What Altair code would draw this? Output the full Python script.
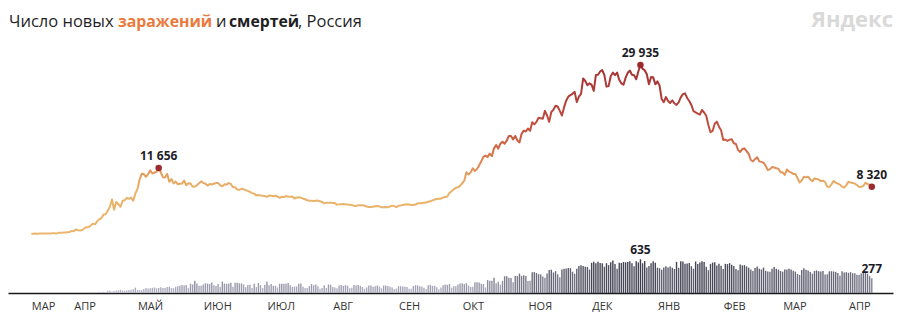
import altair as alt
import pandas as pd

# ---------------- data ----------------
start_date = "2020-03-12"

cases_2020_03 = [6, 11, 14, 4, 30, 21, 33, 52, 54, 53, 61, 71, 57, 163, 182, 196, 228, 270, 302, 501]
cases_2020_04 = [440, 771, 601, 582, 658, 954, 1154, 1175, 1459, 1786, 1667, 2186, 2558, 2774, 3388,
                 3448, 4070, 4785, 6060, 4268, 5642, 5236, 4774, 5849, 5966, 6361, 6198, 6411, 5841, 7099]
cases_2020_05 = [7933, 9623, 10633, 10581, 10102, 10559, 11231, 10699, 10817, 11012, 11656, 10899, 10028,
                 9974, 10598, 9200, 9709, 8926, 9263, 8764, 8849, 8894, 9434, 8599, 8946, 8915, 8338, 8371,
                 8572, 8952, 9268]
cases_2020_06 = [9035, 8863, 8536, 8831, 8726, 8855, 8984, 8985, 8595, 8404, 8779, 8706, 8987, 8835, 8246,
                 8248, 7843, 7790, 7972, 7889, 7728, 7600, 7425, 7176, 7113, 6800, 6852, 6791, 6719, 6693]
cases_2020_07 = [6556, 6760, 6718, 6632, 6736, 6611, 6368, 6562, 6509, 6635, 6615, 6537, 6615, 6248, 6422,
                 6428, 6406, 6214, 6109, 5940, 5842, 5862, 5811, 5848, 5871, 5765, 5635, 5395, 5475, 5509, 5482]
cases_2020_08 = [5462, 5427, 5159, 5204, 5241, 5267, 5212, 5189, 5118, 5102, 4945, 4892, 5057, 5065, 5061,
                 4969, 4839, 4718, 4748, 4767, 4870, 4921, 4852, 4676, 4696, 4744, 4711, 4829, 4980, 4897, 4729]
cases_2020_09 = [4952, 4995, 5110, 5185, 5205, 5195, 5099, 5099, 5172, 5363, 5406, 5449, 5509, 5529, 5670,
                 5762, 5905, 6065, 6148, 6196, 6215, 6431, 6529, 6595, 7212, 7523, 7867, 8135, 8232, 8481]
cases_2020_10 = [8945, 9412, 10888, 10499, 10888, 11615, 11115, 11493, 12126, 12846, 13634, 13868, 13592,
                 14231, 13754, 15150, 15722, 15099, 15982, 16319, 15971, 16521, 17340, 17347, 16710, 17347,
                 16550, 16202, 17717, 18283, 18140]
cases_2020_11 = [18665, 18257, 19768, 19404, 19851, 20582, 20498, 20396, 21798, 20977, 19851, 21608, 21983,
                 22702, 22572, 21798, 20977, 22410, 23610, 24318, 24581, 24822, 25173, 23351, 24326, 24814,
                 27543, 27100, 26338, 26683]
cases_2020_12 = [26402, 25345, 28145, 28209, 28782, 29039, 28137, 26097, 26190, 27927, 28585, 28137, 28585,
                 27328, 26689, 26431, 27656, 28552, 28948, 28209, 28137, 27400, 28776, 29935, 29258, 29018,
                 28284, 26513, 27787, 27747, 26513]
cases_2021_01 = [27039, 26301, 23900, 23351, 24246, 23541, 23200, 23652, 23140, 22851, 23309, 24200, 24763,
                 24900, 24092, 23541, 22857, 21734, 21513, 21300, 21152, 21950, 21513, 20921, 19290, 18000,
                 18241, 19500, 19880, 19000, 18359]
cases_2021_02 = [16643, 16714, 16474, 16688, 16750, 16048, 15916, 14850, 14494, 15019, 15150, 14657, 14185,
                 13080, 12828, 13233, 13560, 12828, 12742, 12604, 12048, 11300, 11409, 11823, 11749, 11600,
                 11534, 10900]
cases_2021_03 = [10900, 10420, 11385, 11022, 10880, 10578, 10595, 9908, 9079, 9437, 10102, 9993, 10120, 9633,
                 9299, 9803, 9700, 9632, 9299, 9424, 9166, 8340, 8294, 8769, 9350, 9073, 8885, 8711, 8340,
                 8162, 8583]
cases_2021_04 = [9230, 9073, 9013, 8885, 8646, 8294, 8328, 8460, 9050, 8806, 8702, 8320]

deaths_2020_03 = [0, 0, 0, 0, 0, 0, 0, 1, 0, 0, 0, 0, 0, 2, 0, 1, 1, 4, 0, 1]
deaths_2020_04 = [2, 4, 2, 4, 2, 11, 2, 5, 13, 18, 12, 18, 24, 22, 24, 19, 43, 41, 29, 37, 48, 51, 59, 48,
                  42, 47, 58, 60, 72, 101]
deaths_2020_05 = [57, 58, 58, 76, 95, 86, 88, 98, 104, 88, 94, 107, 96, 93, 113, 119, 94, 91, 115, 127, 135,
                  150, 139, 153, 92, 174, 161, 232, 181, 138, 138]
deaths_2020_06 = [162, 182, 178, 169, 197, 144, 134, 171, 112, 216, 178, 174, 181, 194, 119, 193, 194, 182,
                  181, 161, 109, 153, 154, 92, 176, 114, 188, 147, 93, 154]
deaths_2020_07 = [216, 147, 168, 135, 138, 104, 173, 175, 174, 174, 188, 144, 114, 121, 124, 176, 179, 119,
                  95, 95, 131, 169, 145, 161, 129, 79, 95, 147, 94, 161, 156]
deaths_2020_08 = [115, 105, 90, 142, 150, 134, 149, 139, 90, 97, 150, 142, 149, 134, 114, 80, 106, 139, 141,
                  120, 129, 141, 123, 88, 143, 142, 134, 116, 102, 77, 83]
deaths_2020_09 = [127, 129, 122, 120, 115, 79, 81, 131, 146, 144, 129, 122, 101, 74, 146, 155, 134, 137, 107,
                  70, 103, 144, 160, 154, 169, 100, 129, 127, 160, 177]
deaths_2020_10 = [186, 169, 186, 141, 115, 120, 202, 201, 197, 174, 170, 105, 244, 232, 232, 286, 184, 212,
                  156, 229, 317, 317, 286, 283, 201, 320, 320, 366, 322, 335, 320]
deaths_2020_11 = [228, 230, 389, 395, 378, 355, 349, 313, 286, 368, 432, 439, 387, 411, 352, 296, 442, 456,
                  463, 473, 467, 401, 361, 456, 507, 524, 510, 496, 491, 442]
deaths_2020_12 = [569, 589, 560, 589, 565, 560, 496, 562, 526, 581, 613, 547, 456, 572, 565, 583, 578, 585,
                  600, 561, 503, 599, 576, 635, 561, 602, 480, 508, 562, 599, 570]
deaths_2021_01 = [477, 468, 439, 482, 506, 481, 497, 474, 452, 587, 475, 598, 592, 549, 558, 563, 505, 457,
                  594, 546, 573, 598, 583, 496, 430, 549, 573, 580, 520, 550, 512]
deaths_2021_02 = [452, 549, 545, 562, 534, 511, 452, 427, 535, 520, 526, 502, 477, 443, 415, 469, 497, 455,
                  444, 479, 417, 403, 399, 455, 491, 459, 440, 416]
deaths_2021_03 = [402, 442, 444, 459, 442, 420, 403, 360, 341, 432, 465, 436, 424, 397, 364, 416, 425, 411,
                  404, 413, 347, 355, 408, 411, 405, 398, 378, 323, 408, 387, 393]
deaths_2021_04 = [380, 392, 372, 370, 343, 339, 369, 383, 384, 362, 318, 277]

month_names = ["ЯНВ", "ФЕВ", "МАР", "АПР", "МАЙ", "ИЮН", "ИЮЛ", "АВГ", "СЕН", "ОКТ", "НОЯ", "ДЕК"]
tick_dates = [(2020, 3, 12), (2020, 4, 1), (2020, 5, 1), (2020, 6, 1), (2020, 7, 1), (2020, 8, 1),
              (2020, 9, 1), (2020, 10, 1), (2020, 11, 1), (2020, 12, 1), (2021, 1, 1), (2021, 2, 1),
              (2021, 3, 1), (2021, 4, 1)]
case_highlights = ["2020-05-11", "2020-12-24", "2021-04-12"]
death_highlights = ["2020-12-24", "2021-04-12"]

# ---------------- build table ----------------
cases = (cases_2020_03 + cases_2020_04 + cases_2020_05 + cases_2020_06 + cases_2020_07 + cases_2020_08 +
         cases_2020_09 + cases_2020_10 + cases_2020_11 + cases_2020_12 + cases_2021_01 + cases_2021_02 +
         cases_2021_03 + cases_2021_04)
deaths = (deaths_2020_03 + deaths_2020_04 + deaths_2020_05 + deaths_2020_06 + deaths_2020_07 +
          deaths_2020_08 + deaths_2020_09 + deaths_2020_10 + deaths_2020_11 + deaths_2020_12 +
          deaths_2021_01 + deaths_2021_02 + deaths_2021_03 + deaths_2021_04)
assert len(cases) == len(deaths) == 397, (len(cases), len(deaths))

dates = pd.date_range(start_date, periods=len(cases), freq="D").strftime("%Y-%m-%d")
df = pd.DataFrame({"date": dates, "cases": cases, "deaths": deaths})


def fmt(v):
    return f"{v:,}".replace(",", " ")


hc = df[df["date"].isin(case_highlights)].copy()
hc["label"] = hc["cases"].map(fmt)
hd = df[df["date"].isin(death_highlights)].copy()
hd["label"] = hd["deaths"].map(fmt)

# ---------------- scales ----------------
W, H = 885, 253
x_scale = alt.Scale(type="utc", padding=0,
                    domain=[alt.DateTime(year=2020, month=3, date=1, utc=True),
                            alt.DateTime(year=2021, month=4, date=22, utc=True)])
cases_scale = alt.Scale(domain=[-10523, 34374], nice=False, zero=False)
deaths_scale = alt.Scale(domain=[0, 4767], nice=False, zero=False)

label_expr = f"{month_names}[utcmonth(datum.value)]".replace("'", '"')
tick_values = [alt.DateTime(year=y, month=m, date=d, utc=True) for (y, m, d) in tick_dates]

x_axis = alt.Axis(values=tick_values, labelExpr=label_expr, title=None, ticks=False, grid=False,
                  domainColor="#1a1a1a", domainWidth=1.5, labelAlign="left", labelPadding=7,
                  labelFontSize=11, labelFont="Open Sans", labelColor="#333333", labelFlush=False,
                  labelOverlap=False)

X = alt.X("date:T", scale=x_scale, axis=x_axis)

base = alt.Chart(df)

bars = base.mark_bar(width=1.4).encode(
    x=X,
    y=alt.Y("deaths:Q", scale=deaths_scale, axis=None),
    color=alt.Color("deaths:Q", scale=alt.Scale(domain=[0, 635], range=["#C4C4D6", "#3A3A4A"]),
                    legend=None),
)

gradient = {
    "gradient": "linear", "x1": 0, "y1": 1, "x2": 0, "y2": 0,
    "stops": [
        {"offset": 0.0, "color": "#EAB66D"},
        {"offset": 0.27, "color": "#E9B169"},
        {"offset": 0.37, "color": "#E2985A"},
        {"offset": 0.47, "color": "#D6744B"},
        {"offset": 0.57, "color": "#C95A42"},
        {"offset": 0.73, "color": "#B8453B"},
        {"offset": 0.9, "color": "#A93837"},
        {"offset": 1.0, "color": "#A33333"},
    ],
}

line = base.mark_line(stroke=gradient, strokeWidth=2, strokeJoin="round").encode(
    x=X,
    y=alt.Y("cases:Q", scale=cases_scale, axis=None),
)

dots = alt.Chart(hc).mark_circle(size=42, color="#9B2B2D", opacity=1).encode(
    x=X,
    y=alt.Y("cases:Q", scale=cases_scale, axis=None),
)

dot_labels = alt.Chart(hc).mark_text(dy=-8, baseline="alphabetic", fontSize=12, fontWeight="bold",
                                     font="Open Sans", color="#1c1c28").encode(
    x=X,
    y=alt.Y("cases:Q", scale=cases_scale, axis=None),
    text="label:N",
)

death_labels = alt.Chart(hd).mark_text(dy=-5, baseline="alphabetic", fontSize=12, fontWeight="bold",
                                       font="Open Sans", color="#1c1c28").encode(
    x=X,
    y=alt.Y("deaths:Q", scale=deaths_scale, axis=None),
    text="label:N",
)

title_font = "Open Sans"


def title_piece(text, x, weight="normal", color="#1f1f1f", size=17):
    return alt.Chart(pd.DataFrame({"t": [text]})).mark_text(
        align="left", baseline="alphabetic", font=title_font, fontSize=size,
        fontWeight=weight, color=color,
    ).encode(x=alt.value(x), y=alt.value(-13), text="t:N")


t1 = title_piece("Число новых", 1, size=16.5)
t2 = title_piece("заражений", 110, "bold", "#EA7A3C", size=15.8)
t3 = title_piece("и", 208, size=16.5)
t4 = title_piece("смертей", 221, "bold", "#1f1f1f", size=15.8)
t5 = title_piece(", Россия", 290, size=16.5)

logo = alt.Chart(pd.DataFrame({"t": ["Яндекс"]})).mark_text(
    align="right", baseline="alphabetic", font="Open Sans", fontSize=22, fontWeight="bold",
    color="#D9D9D9",
).encode(x=alt.value(W), y=alt.value(-13), text="t:N")

chart = alt.layer(bars, line, dots, dot_labels, death_labels, t1, t2, t3, t4, t5, logo).resolve_scale(
    y="independent", color="independent"
).properties(
    width=W, height=H,
    padding={"left": 8, "top": 40, "right": 12, "bottom": 26},
    autosize=alt.AutoSizeParams(type="none"),
    background="white",
).configure_view(stroke=None)

chart.save("out.html", embed_options={"renderer": "svg", "actions": False})
